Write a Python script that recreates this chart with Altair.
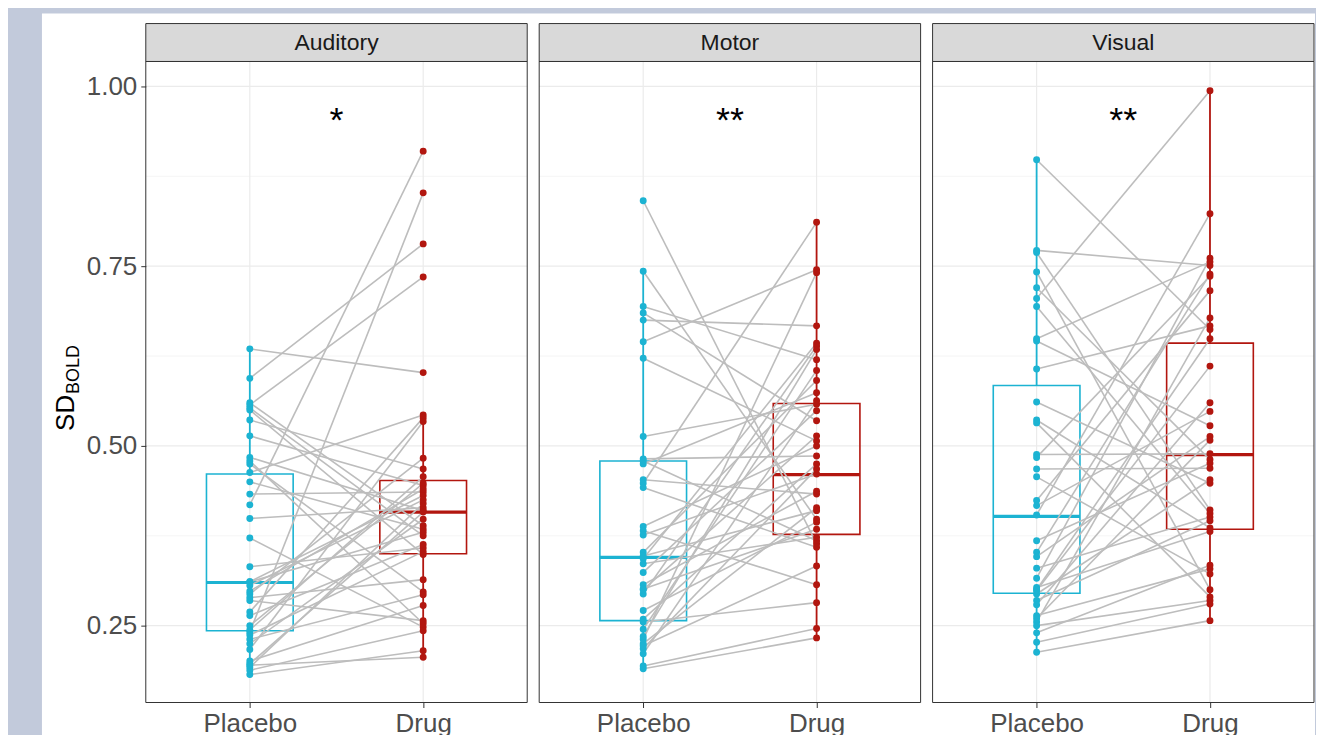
import altair as alt
import pandas as pd

regions = ["Auditory", "Motor", "Visual"]
conditions = ["Placebo", "Drug"]

# paired subject values (same index = same subject)
aud_placebo = [0.635, 0.594, 0.560, 0.557, 0.553, 0.550, 0.536, 0.514, 0.484, 0.479,
               0.475, 0.463, 0.450, 0.433, 0.418, 0.399, 0.372, 0.332, 0.311, 0.311,
               0.294, 0.289, 0.285, 0.269, 0.264, 0.244, 0.241, 0.237, 0.231, 0.217,
               0.201, 0.197, 0.192, 0.188, 0.182, 0.195, 0.306, 0.250, 0.225, 0.298]
aud_drug = [0.602, 0.781, 0.389, 0.735, 0.375, 0.349, 0.468, 0.445, 0.410, 0.253,
            0.297, 0.543, 0.384, 0.436, 0.910, 0.414, 0.248, 0.358, 0.431, 0.380,
            0.483, 0.314, 0.257, 0.539, 0.363, 0.457, 0.852, 0.353, 0.293, 0.534,
            0.278, 0.408, 0.420, 0.243, 0.215, 0.206, 0.425, 0.448, 0.398, 0.440]

mot_placebo = [0.841, 0.743, 0.694, 0.685, 0.675, 0.645, 0.622, 0.513, 0.482, 0.479,
               0.475, 0.453, 0.448, 0.442, 0.388, 0.382, 0.376, 0.352, 0.347, 0.343,
               0.336, 0.324, 0.307, 0.301, 0.294, 0.271, 0.259, 0.255, 0.245, 0.231,
               0.225, 0.218, 0.211, 0.194, 0.190, 0.235, 0.300, 0.222]
mot_drug = [0.364, 0.398, 0.620, 0.535, 0.667, 0.745, 0.507, 0.558, 0.486, 0.368,
            0.574, 0.433, 0.811, 0.359, 0.500, 0.307, 0.461, 0.591, 0.410, 0.643,
            0.373, 0.549, 0.437, 0.384, 0.639, 0.394, 0.475, 0.282, 0.605, 0.741,
            0.414, 0.468, 0.563, 0.246, 0.233, 0.634, 0.514, 0.333]

vis_placebo = [0.898, 0.772, 0.769, 0.742, 0.720, 0.705, 0.694, 0.649, 0.646, 0.607,
               0.561, 0.536, 0.532, 0.488, 0.484, 0.468, 0.457, 0.424, 0.417, 0.404,
               0.368, 0.352, 0.346, 0.330, 0.316, 0.303, 0.299, 0.294, 0.285, 0.279,
               0.264, 0.260, 0.255, 0.250, 0.240, 0.227, 0.213, 0.300]
vis_drug = [0.662, 0.751, 0.411, 0.300, 0.481, 0.994, 0.406, 0.756, 0.528, 0.667,
            0.448, 0.386, 0.290, 0.489, 0.736, 0.469, 0.322, 0.716, 0.548, 0.823,
            0.476, 0.739, 0.513, 0.401, 0.761, 0.381, 0.611, 0.453, 0.396, 0.560,
            0.329, 0.508, 0.678, 0.285, 0.334, 0.280, 0.257, 0.649]

# box-plot statistics
box_region = ["Auditory", "Auditory", "Motor", "Motor", "Visual", "Visual"]
box_cond = ["Placebo", "Drug", "Placebo", "Drug", "Placebo", "Drug"]
box_lo = [0.182, 0.206, 0.190, 0.233, 0.213, 0.257]
box_q1 = [0.243, 0.350, 0.257, 0.377, 0.295, 0.384]
box_med = [0.310, 0.408, 0.345, 0.460, 0.402, 0.488]
box_q3 = [0.461, 0.452, 0.479, 0.559, 0.584, 0.643]
box_hi = [0.635, 0.543, 0.743, 0.811, 0.898, 0.994]

star_text = ["*", "**", "**"]
star_value = [0.937, 0.937, 0.937]

y_major = [0.25, 0.50, 0.75, 1.00]
y_minor = [0.375, 0.625, 0.875]

CY = "#1cb3d2"
RD = "#b2160f"
pos_of = {"Placebo": 1, "Drug": 2}

rows = []
for reg, pl, dr in zip(regions, [aud_placebo, mot_placebo, vis_placebo],
                       [aud_drug, mot_drug, vis_drug]):
    for i, (a, b) in enumerate(zip(pl, dr)):
        rows.append(dict(region=reg, subject=f"{reg}{i}", cond="Placebo", pos=1, value=a))
        rows.append(dict(region=reg, subject=f"{reg}{i}", cond="Drug", pos=2, value=b))
pts = pd.DataFrame(rows)

box = pd.DataFrame(dict(region=box_region, cond=box_cond, lo=box_lo, q1=box_q1,
                        med=box_med, q3=box_q3, hi=box_hi))
box["pos"] = box["cond"].map(pos_of)
box["left"] = box["pos"] - 0.25
box["right"] = box["pos"] + 0.25

stars = pd.DataFrame(dict(region=regions, text=star_text, sy=star_value, sx=[1.5] * 3))

W, H = 382, 642
yscale = alt.Scale(domain=[0.1431, 1.0347], nice=False, zero=False)
xscale = alt.Scale(domain=[0.4, 2.6], nice=False, zero=False)
cscale = alt.Scale(domain=conditions, range=[CY, RD])

AX = dict(title=None, grid=False, domain=False, tickColor="#333333", tickSize=5,
          tickWidth=1, labelFontSize=26, labelColor="#4d4d4d", zindex=1)


def make_panel(region, first):
    xaxis = alt.Axis(values=[1, 2], labelExpr="datum.value == 1 ? 'Placebo' : 'Drug'",
                     labelPadding=3, **AX)
    if first:
        yaxis = alt.Axis(values=y_major, format=".2f", labelPadding=4, **AX)
    else:
        yaxis = None

    def X(f):
        return alt.X(f"{f}:Q", scale=xscale, axis=xaxis)

    def Y(f):
        return alt.Y(f"{f}:Q", scale=yscale, axis=yaxis)

    col = alt.Color("cond:N", scale=cscale, legend=None)
    stk = alt.Stroke("cond:N", scale=cscale, legend=None)
    d_pts = pts[pts.region == region]
    d_box = box[box.region == region]
    d_star = stars[stars.region == region]
    one = pd.DataFrame({"region": [region]})

    layers = []
    if first:
        layers.append(alt.Chart(one).mark_rect(color="white").encode(
            x=alt.value(-104), x2=alt.value(1171), y=alt.value(-48), y2=alt.value(700)))
    layers.append(alt.Chart(pd.DataFrame({"g": y_major})).mark_rule(
        color="#ebebeb", strokeWidth=1.2).encode(y=Y("g"), x=alt.value(0), x2=alt.value(W)))
    layers.append(alt.Chart(pd.DataFrame({"g": y_minor})).mark_rule(
        color="#f0f0f0", strokeWidth=0.7).encode(y=Y("g"), x=alt.value(0), x2=alt.value(W)))
    layers.append(alt.Chart(pd.DataFrame({"p": [1, 2]})).mark_rule(
        color="#ebebeb", strokeWidth=1.2).encode(x=X("p"), y=alt.value(0), y2=alt.value(H)))
    layers.append(alt.Chart(d_box).mark_rect(fillOpacity=0, strokeWidth=1.6).encode(
        x=X("left"), x2="right", y=Y("q1"), y2="q3", stroke=stk))
    layers.append(alt.Chart(d_box).mark_rule(strokeWidth=1.8).encode(
        x=X("pos"), y=Y("lo"), y2="q1", color=col))
    layers.append(alt.Chart(d_box).mark_rule(strokeWidth=1.8).encode(
        x=X("pos"), y=Y("q3"), y2="hi", color=col))
    layers.append(alt.Chart(d_box).mark_rule(strokeWidth=3.2).encode(
        x=X("left"), x2="right", y=Y("med"), color=col))
    layers.append(alt.Chart(d_pts).mark_line(color="#bdbdbd", strokeWidth=1.6).encode(
        x=X("pos"), y=Y("value"), detail="subject:N"))
    layers.append(alt.Chart(d_pts).mark_circle(size=48, opacity=1).encode(
        x=X("pos"), y=Y("value"), color=col))
    layers.append(alt.Chart(d_star).mark_text(fontSize=36, baseline="alphabetic",
                                               color="black").encode(
        x=X("sx"), y=Y("sy"), text="text:N"))
    layers.append(alt.Chart(one).mark_rect(fill="#d9d9d9", stroke="#333333",
                                           strokeWidth=1).encode(
        x=alt.value(0), x2=alt.value(W), y=alt.value(-38), y2=alt.value(0)))
    layers.append(alt.Chart(one).mark_text(fontSize=23, color="#1a1a1a",
                                           baseline="middle").encode(
        x=alt.value(W / 2), y=alt.value(-19), text="region:N"))
    layers.append(alt.Chart(one).mark_rect(fillOpacity=0, stroke="#333333",
                                           strokeWidth=1).encode(
        x=alt.value(0), x2=alt.value(W), y=alt.value(0), y2=alt.value(H)))
    if first:
        layers.append(alt.Chart(one).mark_text(text="SD", fontSize=26, angle=270,
                                               align="left", baseline="alphabetic",
                                               color="black").encode(
            x=alt.value(73 - 145), y=alt.value(430 - 60)))
        layers.append(alt.Chart(one).mark_text(text="BOLD", fontSize=18, angle=270,
                                               align="left", baseline="alphabetic",
                                               color="black").encode(
            x=alt.value(78 - 145), y=alt.value(393 - 60)))
    return alt.layer(*layers).properties(width=W, height=H)


chart = alt.hconcat(
    make_panel("Auditory", True),
    make_panel("Motor", False),
    make_panel("Visual", False),
    spacing=12,
    bounds="flush",
).properties(
    padding={"left": 33, "top": 4, "right": 0, "bottom": 0},
    background="#c2cadb",
).configure(font="Liberation Sans").configure_view(stroke="transparent")

chart.save("out.html", embed_options={"renderer": "svg", "actions": False})
